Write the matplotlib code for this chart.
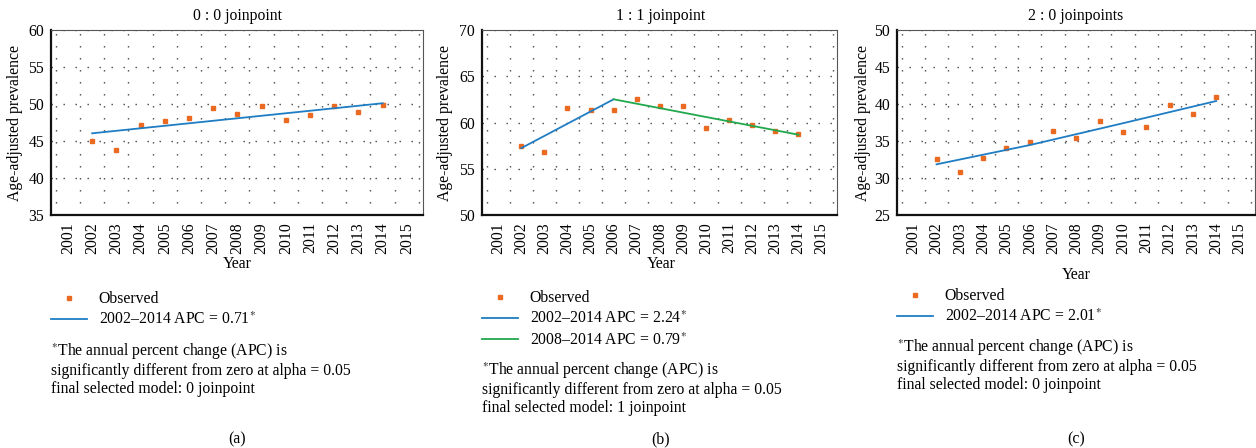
import matplotlib
matplotlib.use("Agg")
import matplotlib.pyplot as plt
from matplotlib.ticker import FixedLocator

plt.rcParams['font.family'] = ['Liberation Serif', 'DejaVu Serif']
plt.rcParams['mathtext.fontset'] = 'stix'

# данные
years = list(range(2002, 2015))

obs_a = [45.05, 43.8, 47.16, 47.7, 48.1, 49.46, 48.6, 49.73, 47.84, 48.56, 49.77, 48.87, 49.86]
fit_a_years = [2002, 2014]
fit_a = [46.04, 50.1]

obs_b = [57.45, 56.8, 61.57, 61.32, 61.36, 62.51, 61.75, 61.75, 59.44, 60.31, 59.69, 59.04, 58.72]
fit_b1_years = [2002, 2006]
fit_b1 = [57.23, 62.51]
fit_b2_years = [2006, 2014]
fit_b2 = [62.51, 58.68]

obs_c = [32.57, 30.77, 32.75, 34.05, 34.86, 36.35, 35.41, 37.7, 36.26, 36.85, 39.82, 38.65, 40.95]
fit_c_years = [2002, 2006, 2010, 2014]
fit_c = [31.85, 34.45, 37.4, 40.4]

titles = ["0 : 0 joinpoint", "1 : 1 joinpoint", "2 : 0 joinpoints"]
ylims = [(35, 60), (50, 70), (25, 50)]
tick_years = list(range(2001, 2016))

ORANGE = '#EA6A22'
BLUE = '#1F7DC4'
GREEN = '#22A84C'
FS = 11.3

W, H = 1256, 448
fig = plt.figure(figsize=(W / 100, H / 100), dpi=100)


def px(x, y):
    return x / W, 1 - y / H


def make_ax(l, r, t, b):
    return fig.add_axes([l / W, 1 - b / H, (r - l) / W, (b - t) / H])


axes = [make_ax(51, 423, 30, 215), make_ax(482, 837, 30, 215), make_ax(897, 1255, 30, 215)]

for ax, ttl, yl in zip(axes, titles, ylims):
    ax.set_xlim(2000.3, 2015.67)
    ax.set_ylim(*yl)
    ax.set_xticks(tick_years)
    ax.set_xticklabels([str(y) for y in tick_years], rotation=90)
    ax.set_yticks(range(yl[0], yl[1] + 1, 5))
    ax.xaxis.set_minor_locator(FixedLocator([y + 0.5 for y in range(2000, 2016)]))
    ax.tick_params(which='both', length=0, labelsize=FS)
    ax.tick_params(axis='y', pad=5)
    ax.tick_params(axis='x', pad=5)
    ax.grid(which='minor', axis='x', color='#444444', linewidth=1.0, linestyle=(0, (1, 7.64)))
    ax.grid(which='major', axis='y', color='#444444', linewidth=1.0, linestyle=(0, (1, 7.64)))
    ax.grid(which='major', axis='x', visible=False)
    for s in ['left', 'bottom']:
        ax.spines[s].set_linewidth(1.6)
        ax.spines[s].set_color('#111111')
    for s in ['top', 'right']:
        ax.spines[s].set_linewidth(0.8)
        ax.spines[s].set_color('#555555')
    ax.set_ylabel("Age-adjusted prevalence", fontsize=FS)

axes[0].yaxis.set_label_coords((23 - 51) / 372, 0.5)
axes[1].yaxis.set_label_coords((453 - 482) / 355, 0.5)
axes[2].yaxis.set_label_coords((871 - 897) / 358, 0.5)

mk = dict(marker='s', markersize=3.2, linestyle='none', color=ORANGE)

# (a)
axes[0].plot(years, obs_a, label='Observed', **mk)
axes[0].plot(fit_a_years, fit_a, color=BLUE, lw=1.3, label='2002–2014 APC = 0.71$^{*}$')
# (b)
axes[1].plot(years, obs_b, label='Observed', **mk)
axes[1].plot(fit_b1_years, fit_b1, color=BLUE, lw=1.3, label='2002–2014 APC = 2.24$^{*}$')
axes[1].plot(fit_b2_years, fit_b2, color=GREEN, lw=1.3, label='2008–2014 APC = 0.79$^{*}$')
# (c)
axes[2].plot(years, obs_c, label='Observed', **mk)
axes[2].plot(fit_c_years, fit_c, color=BLUE, lw=1.3, label='2002–2014 APC = 2.01$^{*}$')

centers = [237, 661, 1076]
year_y = [264, 264, 275]
for c, yy, ttl in zip(centers, year_y, titles):
    fig.text(*px(c, 16), ttl, ha='center', va='center', fontsize=FS)
    fig.text(*px(c, yy), "Year", ha='center', va='center', fontsize=FS)

# легенды
leg_pos = [(51, 291), (482, 290), (897, 288)]
for ax, (lx, ly) in zip(axes, leg_pos):
    ax.legend(loc='upper left', bbox_to_anchor=px(lx, ly), bbox_transform=fig.transFigure,
              frameon=False, fontsize=FS, borderpad=0, borderaxespad=0,
              handlelength=2.3, handletextpad=0.75, labelspacing=0.3, numpoints=1)

# сноски
foot = ["$^{*}$The annual percent change (APC) is",
        "significantly different from zero at alpha = 0.05"]
foot_pos = [(51, 352, "final selected model: 0 joinpoint"),
            (482, 371, "final selected model: 1 joinpoint"),
            (897, 348, "final selected model: 0 joinpoint")]
for fx, fy, last in foot_pos:
    for k, line in enumerate(foot + [last]):
        fig.text(*px(fx, fy + k * 18.7), line, ha='left', va='center', fontsize=FS)

for c, lab in zip(centers, ["(a)", "(b)", "(c)"]):
    fig.text(*px(c, 439), lab, ha='center', va='center', fontsize=FS)

fig.savefig("out.png", dpi=100)
